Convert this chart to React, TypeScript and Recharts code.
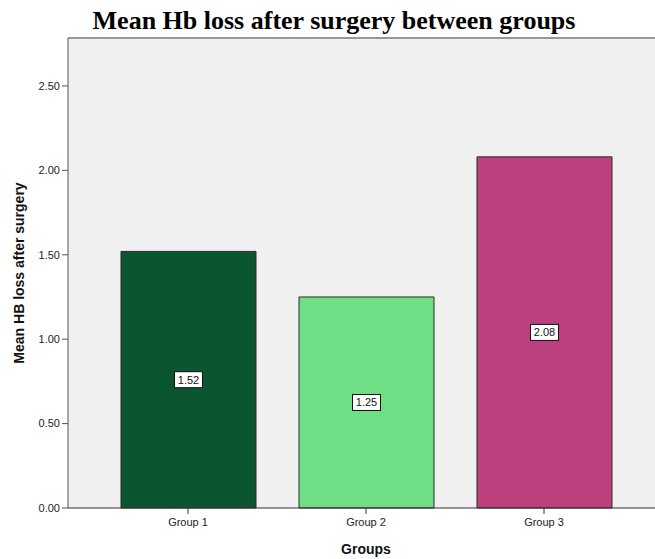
import React from 'react';
import {
  BarChart,
  Bar,
  XAxis,
  YAxis,
  CartesianGrid,
  ReferenceLine,
  LabelList,
  Label,
  Cell,
} from 'recharts';

// mean Hb loss per group
const groups = ['Group 1', 'Group 2', 'Group 3'];
const meanLoss = [1.52, 1.25, 2.08];
const barColors = ['#0B5530', '#70DE84', '#BC407D'];
const yTicks = [0, 0.5, 1, 1.5, 2, 2.5];
const yMax = 2.784;

const data = groups.map((g, i) => ({ group: g, value: meanLoss[i] }));

const axisFont = 'Liberation Sans, Arial, sans-serif';

// white boxed value label in the middle of each bar
const ValueBox = (props: any) => {
  const { x, y, width, height, value } = props;
  const cx = x + width / 2;
  const cy = y + height / 2;
  const text = Number(value).toFixed(2);
  const w = 28;
  const h = 16;
  return (
    <g>
      <rect x={cx - w / 2} y={cy - h / 2} width={w} height={h} fill="#ffffff" stroke="#111" strokeWidth={1} />
      <text x={cx} y={cy + 4} textAnchor="middle" fontSize={11} fontFamily={axisFont} fill="#111">
        {text}
      </text>
    </g>
  );
};

export default function App() {
  return (
    <div style={{ position: 'absolute', left: 0, top: 0, width: 655, height: 559, background: '#fff' }}>
      <div
        style={{
          position: 'absolute',
          left: 0,
          top: 6,
          width: 668,
          textAlign: 'center',
          fontFamily: 'Liberation Serif, Times New Roman, serif',
          fontWeight: 'bold',
          fontSize: 26,
          color: '#000',
          lineHeight: '30px',
        }}
      >
        Mean Hb loss after surgery between groups
      </div>
      <BarChart
        width={655}
        height={559}
        data={data}
        margin={{ top: 38, right: 0, bottom: 21, left: 8 }}
        style={{ position: 'absolute', left: 0, top: 0 }}
      >
        <CartesianGrid horizontal={false} vertical={false} fill="#F0F0F0" />
        <XAxis
          dataKey="group"
          height={30}
          padding={{ left: 31, right: 22 }}
          tickSize={6}
          tickMargin={4}
          stroke="#333"
          tick={{ fontSize: 11, fontFamily: axisFont, fill: '#222' }}
        >
          <Label
            content={() => (
              <text x={366} y={554} textAnchor="middle" fontSize={14} fontWeight="bold" fontFamily={axisFont} fill="#111">
                Groups
              </text>
            )}
          />
        </XAxis>
        <YAxis
          width={60}
          domain={[0, yMax]}
          ticks={yTicks}
          tickSize={6}
          tickMargin={2}
          stroke="#555"
          tickFormatter={(v: number) => v.toFixed(2)}
          tick={{ fontSize: 11, fontFamily: axisFont, fill: '#222' }}
        >
          <Label
            content={() => (
              <text
                x={24}
                y={273}
                transform="rotate(-90 24 273)"
                textAnchor="middle"
                fontSize={14}
                fontWeight="bold"
                fontFamily={axisFont}
                fill="#111"
              >
                Mean HB loss after surgery
              </text>
            )}
          />
        </YAxis>
        <ReferenceLine y={yMax} stroke="#777" strokeWidth={1.5} />
        <Bar dataKey="value" barSize={135} stroke="#2a2a2a" strokeWidth={1} isAnimationActive={false}>
          {data.map((d, i) => (
            <Cell key={d.group} fill={barColors[i]} />
          ))}
          <LabelList dataKey="value" content={ValueBox} />
        </Bar>
      </BarChart>
    </div>
  );
}
